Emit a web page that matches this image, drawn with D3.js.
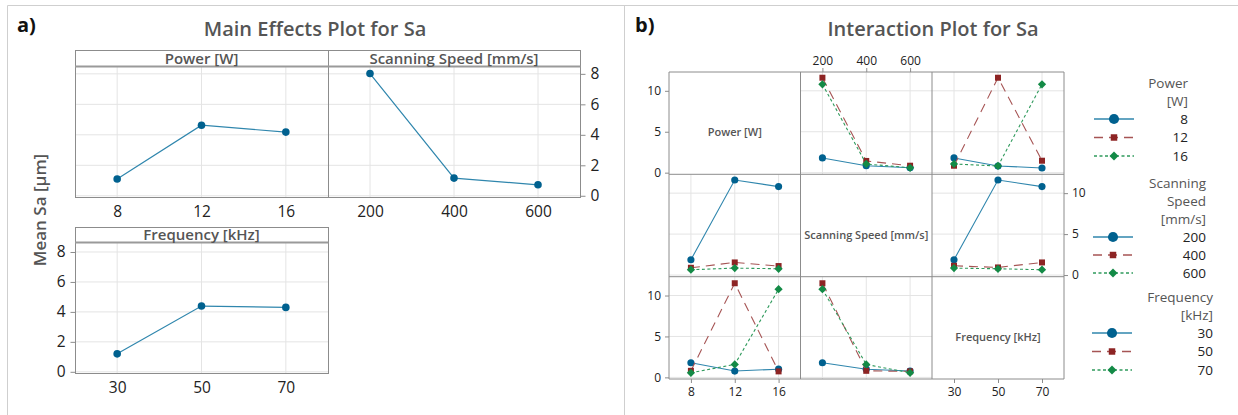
<!DOCTYPE html>
<html>
<head>
<meta charset="utf-8">
<script src="https://cdn.jsdelivr.net/npm/d3@7/dist/d3.min.js"></script>
<style>
  body { margin: 0; background: #fff; }
  svg text { font-family: "Open Sans", "Noto Sans", sans-serif; }
</style>
</head>
<body>
<svg id="viz"></svg>
<script>
const width = 1238, height = 415;

// factor levels
const powerLevels = [8, 12, 16];
const speedLevels = [200, 400, 600];
const freqLevels = [30, 50, 70];

// main effects (mean Sa)
const mainPower = [1.1, 4.63, 4.18];
const mainSpeed = [8.02, 1.16, 0.72];
const mainFreq = [1.2, 4.39, 4.3];
const mainTicks = [0, 2, 4, 6, 8];

// interaction means: one row per trace level, one column per x level
const powerBySpeed = [[1.8, 0.85, 0.6], [11.6, 1.43, 0.85], [10.8, 1.06, 0.6]];
const powerByFreq = [[1.8, 0.82, 0.57], [0.85, 11.6, 1.46], [1.06, 0.82, 10.8]];
const speedByPower = [[1.87, 11.6, 10.8], [0.89, 1.54, 1.1], [0.65, 0.85, 0.77]];
const speedByFreq = [[1.87, 11.6, 10.8], [1.13, 0.93, 1.54], [0.85, 0.77, 0.65]];
const freqByPower = [[1.78, 0.77, 1.0], [0.8, 11.5, 0.73], [0.56, 1.58, 10.77]];
const freqBySpeed = [[1.78, 1.0, 0.77], [11.5, 0.8, 0.73], [10.77, 1.58, 0.56]];
const interTicks = [0, 5, 10];

const gridColor = "#e4e4e4", frameColor = "#8c8c8c", labelGray = "#555", tickText = "#222";

// diamond = square turned by 45 degrees
const diamond = {
  draw(ctx, size) {
    const r = Math.sqrt(size / 2);
    ctx.moveTo(0, -r); ctx.lineTo(r, 0); ctx.lineTo(0, r); ctx.lineTo(-r, 0); ctx.closePath();
  }
};

// styles of the three traces
const traceStyles = [
  {line: "#2f86ad", fill: "#00618f", dash: null, shape: d3.symbolCircle, size: 40, legSize: 80},
  {line: "#a65454", fill: "#8d2424", dash: "9,6", shape: d3.symbolSquare, size: 36, legSize: 42},
  {line: "#2f9a5c", fill: "#138a46", dash: "3,2.5", shape: diamond, size: 34, legSize: 40}
];

const svg = d3.select("#viz")
  .attr("width", width)
  .attr("height", height);

// outer frames of both panels
svg.append("path")
  .attr("d", `M7.5,415V5.5H1238M624.5,5.5V415`)
  .attr("fill", "none")
  .attr("stroke", "#cfcfcf");

svg.append("text").attr("x", 17).attr("y", 32).text("a)")
  .attr("font-size", 20).attr("font-weight", 700).attr("fill", "#111");
svg.append("text").attr("x", 635).attr("y", 32).text("b)")
  .attr("font-size", 20).attr("font-weight", 700).attr("fill", "#111");

svg.append("text").attr("x", 315).attr("y", 36).attr("text-anchor", "middle")
  .text("Main Effects Plot for Sa")
  .attr("font-size", 20).attr("font-weight", 600).attr("fill", labelGray);
svg.append("text").attr("x", 933).attr("y", 36).attr("text-anchor", "middle")
  .text("Interaction Plot for Sa")
  .attr("font-size", 20).attr("font-weight", 600).attr("fill", labelGray);

// ---------- a) main effects ----------
const yTop = d3.scaleLinear().domain([-0.08, 8.45]).range([197, 67]);
const yBottom = d3.scaleLinear().domain([-0.08, 8.6]).range([373, 243]);

function mainFacet(f) {
  const x = d3.scalePoint().domain(f.levels).range([f.x0, f.x1]).padding(0.5);
  const y = f.y;
  const plotTop = y.range()[1], bottom = y.range()[0];
  const g = svg.append("g");

  g.selectAll(".gx").data(f.levels).join("line")
    .attr("x1", d => x(d)).attr("x2", d => x(d))
    .attr("y1", plotTop).attr("y2", bottom)
    .attr("stroke", gridColor);
  g.selectAll(".gy").data(mainTicks).join("line")
    .attr("x1", f.x0).attr("x2", f.x1)
    .attr("y1", d => y(d)).attr("y2", d => y(d))
    .attr("stroke", gridColor);

  g.append("rect")
    .attr("x", f.x0 + 0.5).attr("y", f.top + 0.5)
    .attr("width", f.x1 - f.x0).attr("height", bottom - f.top)
    .attr("fill", "none").attr("stroke", frameColor);
  g.append("line")
    .attr("x1", f.x0).attr("x2", f.x1 + 0.5)
    .attr("y1", plotTop - 0.5).attr("y2", plotTop - 0.5)
    .attr("stroke", "#9a9a9a").attr("stroke-width", 2);
  g.append("text")
    .attr("x", (f.x0 + f.x1) / 2).attr("y", plotTop - 3.5)
    .attr("text-anchor", "middle")
    .attr("font-size", 15).attr("font-weight", 600).attr("fill", labelGray)
    .text(f.title);

  // x labels
  const xa = g.append("g").attr("transform", `translate(0,${bottom})`)
    .call(d3.axisBottom(x).tickSize(0).tickPadding(9));
  xa.select(".domain").remove();
  xa.selectAll("text").attr("font-size", 15.5).attr("fill", tickText).attr("font-family", null);

  if (f.axis) {
    const ax = f.axis === "left" ? d3.axisLeft(y) : d3.axisRight(y);
    const ya = g.append("g")
      .attr("transform", `translate(${f.axis === "left" ? f.x0 + 0.5 : f.x1 + 0.5},0)`)
      .call(ax.tickValues(mainTicks).tickSize(5).tickPadding(5));
    ya.select(".domain").remove();
    ya.selectAll("line").attr("stroke", frameColor);
    ya.selectAll("text").attr("font-size", 15.5).attr("fill", tickText).attr("font-family", null);
  }

  const pts = f.levels.map((l, i) => [x(l), y(f.values[i])]);
  g.append("path")
    .attr("d", d3.line()(pts))
    .attr("fill", "none").attr("stroke", "#2f86ad").attr("stroke-width", 1.2);
  g.selectAll(".pt").data(pts).join("circle")
    .attr("cx", d => d[0]).attr("cy", d => d[1]).attr("r", 3.8)
    .attr("fill", "#00618f");
}

mainFacet({x0: 75, x1: 328, top: 50, y: yTop, levels: powerLevels, values: mainPower, title: "Power [W]"});
mainFacet({x0: 328, x1: 580, top: 50, y: yTop, levels: speedLevels, values: mainSpeed, title: "Scanning Speed [mm/s]", axis: "right"});
mainFacet({x0: 75, x1: 328, top: 227, y: yBottom, levels: freqLevels, values: mainFreq, title: "Frequency [kHz]", axis: "left"});

svg.append("text")
  .attr("transform", "translate(46,210) rotate(-90)")
  .attr("text-anchor", "middle")
  .attr("font-size", 17).attr("font-weight", 600).attr("fill", labelGray)
  .text("Mean Sa [µm]");

// ---------- b) interaction matrix ----------
const gridX = [669, 800.5, 932, 1064];
const gridY = [72, 174.3, 276.7, 379];
const factors = [
  {name: "Power [W]", levels: powerLevels},
  {name: "Scanning Speed [mm/s]", levels: speedLevels},
  {name: "Frequency [kHz]", levels: freqLevels}
];
// cell data[row][col]: traces of factor row plotted against factor col
const cellData = [
  [null, powerBySpeed, powerByFreq],
  [speedByPower, null, speedByFreq],
  [freqByPower, freqBySpeed, null]
];

const mg = svg.append("g");

const styleAxis = a => {
  a.select(".domain").remove();
  a.selectAll("line").attr("stroke", frameColor);
  a.selectAll("text").attr("font-size", 12).attr("fill", tickText).attr("font-family", null);
};

for (let r = 0; r < 3; r++) {
  for (let c = 0; c < 3; c++) {
    const x0 = gridX[c], x1 = gridX[c + 1], y0 = gridY[r], y1 = gridY[r + 1];
    const x = d3.scalePoint().domain(factors[c].levels).range([x0, x1]).padding(0.5);
    const y = d3.scaleLinear().domain([-0.2, 12.3]).range([y1, y0]);

    if (r === c) {
      mg.append("text")
        .attr("x", (x0 + x1) / 2).attr("y", (y0 + y1) / 2 + 13)
        .attr("text-anchor", "middle")
        .attr("font-size", 11).attr("font-weight", 600).attr("fill", labelGray)
        .text(factors[r].name);
    } else {
      mg.append("g").selectAll("line").data(factors[c].levels).join("line")
        .attr("x1", d => x(d)).attr("x2", d => x(d))
        .attr("y1", y0).attr("y2", y1).attr("stroke", gridColor);
      mg.append("g").selectAll("line").data(interTicks).join("line")
        .attr("x1", x0).attr("x2", x1)
        .attr("y1", d => y(d)).attr("y2", d => y(d)).attr("stroke", gridColor);

      cellData[r][c].forEach((vals, i) => {
        const st = traceStyles[i];
        const pts = factors[c].levels.map((l, j) => [x(l), y(vals[j])]);
        mg.append("path")
          .attr("d", d3.line()(pts))
          .attr("fill", "none").attr("stroke", st.line).attr("stroke-width", 1.1)
          .attr("stroke-dasharray", st.dash);
        mg.append("g").selectAll("path").data(pts).join("path")
          .attr("transform", d => `translate(${d[0]},${d[1]})`)
          .attr("d", d3.symbol().type(st.shape).size(st.size))
          .attr("fill", st.fill);
      });
    }

    // axes on the outside of the matrix
    if (c === 0 && r !== 1) {
      mg.append("g").attr("transform", `translate(${x0},0)`)
        .call(d3.axisLeft(y).tickValues(interTicks).tickSize(4).tickPadding(4)).call(styleAxis);
    }
    if (c === 2 && r === 1) {
      mg.append("g").attr("transform", `translate(${x1},0)`)
        .call(d3.axisRight(y).tickValues(interTicks).tickSize(4).tickPadding(4)).call(styleAxis);
    }
    if (r === 0 && c === 1) {
      mg.append("g").attr("transform", `translate(0,${y0})`)
        .call(d3.axisTop(x).tickSize(4).tickPadding(3)).call(styleAxis);
    }
    if (r === 2 && c !== 1) {
      mg.append("g").attr("transform", `translate(0,${y1})`)
        .call(d3.axisBottom(x).tickSize(4).tickPadding(4)).call(styleAxis);
    }
  }
}

// matrix frame and cell borders
gridX.forEach(v => mg.append("line")
  .attr("x1", v).attr("x2", v).attr("y1", gridY[0]).attr("y2", gridY[3])
  .attr("stroke", frameColor));
gridY.forEach(v => mg.append("line")
  .attr("x1", gridX[0]).attr("x2", gridX[3]).attr("y1", v).attr("y2", v)
  .attr("stroke", frameColor));

// legends
function legend(titleLines, titleY, levels, itemY, right, symX) {
  const lg = svg.append("g");
  titleLines.forEach((t, i) => lg.append("text")
    .attr("x", right).attr("y", titleY[i]).attr("dy", "0.35em")
    .attr("text-anchor", "end").attr("font-size", 13.5).attr("fill", labelGray)
    .text(t));
  levels.forEach((l, i) => {
    const st = traceStyles[i], yy = itemY[i];
    lg.append("line")
      .attr("x1", symX - 20).attr("x2", symX + 20).attr("y1", yy).attr("y2", yy)
      .attr("stroke", st.line).attr("stroke-width", 1.3).attr("stroke-dasharray", st.dash);
    lg.append("path")
      .attr("transform", `translate(${symX},${yy})`)
      .attr("d", d3.symbol().type(st.shape).size(st.legSize))
      .attr("fill", st.fill);
    lg.append("text")
      .attr("x", right).attr("y", yy).attr("dy", "0.35em")
      .attr("text-anchor", "end").attr("font-size", 13.5).attr("fill", tickText)
      .text(l);
  });
}

legend(["Power", "[W]"], [83, 101], powerLevels, [119, 137.5, 156], 1188, 1114);
legend(["Scanning", "Speed", "[mm/s]"], [183, 201, 219], speedLevels, [237, 255, 273], 1206, 1113);
legend(["Frequency", "[kHz]"], [297, 315], freqLevels, [333, 351.5, 370], 1213, 1112);
</script>
</body>
</html>
